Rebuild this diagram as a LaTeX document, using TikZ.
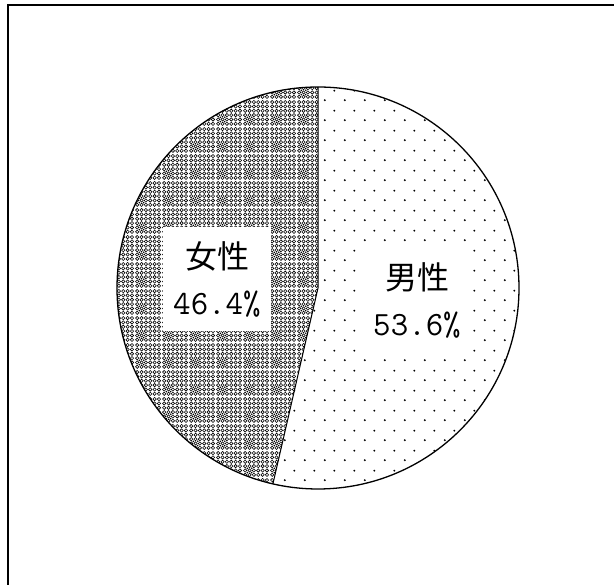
\documentclass[tikz,border=0pt]{standalone}
\usepackage{fontspec}
\usepackage{tikz}
\usetikzlibrary{patterns}
\newfontfamily\mincho{Noto Sans CJK JP}
\newcommand\pctfont{\fontsize{34}{46}\selectfont\ttfamily}

\pgfdeclarepatternformonly{maledots}{\pgfpointorigin}{\pgfpoint{20pt}{20pt}}{\pgfpoint{20pt}{20pt}}{%
  \pgfpathcircle{\pgfpoint{5pt}{5pt}}{1.1pt}%
  \pgfpathcircle{\pgfpoint{15pt}{15pt}}{1.1pt}%
  \pgfusepath{fill}}

\pgfdeclarepatternformonly{femalemesh}{\pgfpointorigin}{\pgfpoint{27pt}{27pt}}{\pgfpoint{27pt}{27pt}}{%
  \pgfsetlinewidth{0.6pt}%
  \foreach \i in {0,...,5}{\foreach \j in {0,...,5}{%
    \pgfpathcircle{\pgfpoint{\i*4.5pt+2.25pt}{\j*4.5pt+2.25pt}}{1.7pt}\pgfusepath{stroke}}}%
  \foreach \i in {0,1}{\foreach \j in {0,1}{%
    \pgfpathcircle{\pgfpoint{\i*4.5pt+4.5pt}{\j*4.5pt+4.5pt}}{0.9pt}\pgfusepath{fill}}}}

\begin{document}
\begin{tikzpicture}[x=1pt,y=1pt]
  \tikzstyle{labelbox}=[fill=white,inner sep=0pt,minimum width=108pt,minimum height=104pt,align=center,font=\fontsize{32}{46}\selectfont\mincho]
  \useasboundingbox (0,0) rectangle (614,585);
  \coordinate (c) at (318,297);
	% frame, only top and left edges show
  \draw[line width=1.4pt] (8,-10) |- (630,580);
	% sectors
  \fill[pattern=femalemesh] (c) -- ++(0,201) arc[start angle=90,end angle=257.04,radius=201] -- cycle;
  \fill[pattern=maledots] (c) -- ++(0,201) arc[start angle=90,end angle=-102.96,radius=201] -- cycle;
  \node[labelbox] (female) at (217,306) {女性\\{\pctfont 46.4\%}};
  \node[labelbox] (male) at (417,285) {男性\\{\pctfont 53.6\%}};
  \draw[line width=1.3pt] (c) circle[radius=201];
  \draw[line width=1pt] (c) ++(0,201) -- (c) -- ++(257.04:201);
\end{tikzpicture}
\end{document}
